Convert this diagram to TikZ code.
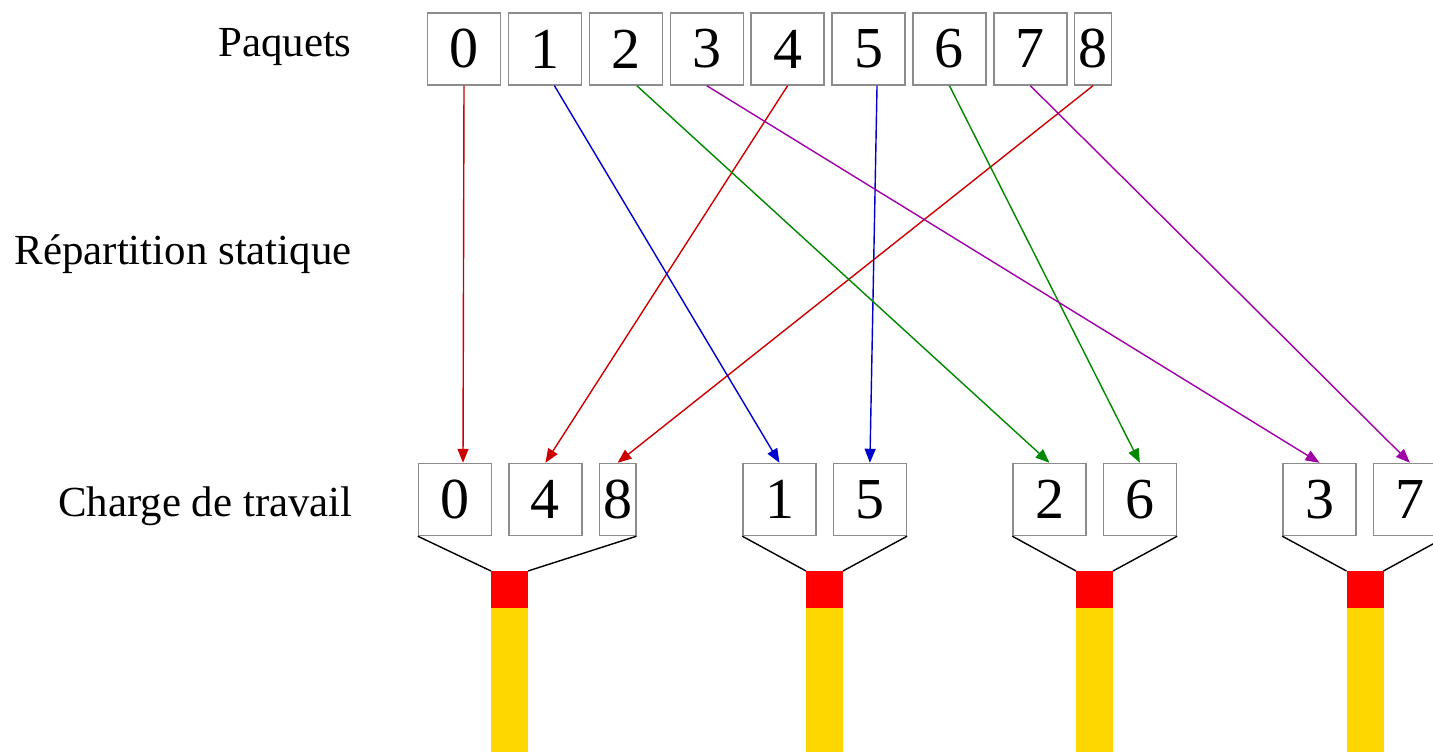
\documentclass[tikz,border=0pt]{standalone}
\usepackage{fontspec}
\setmainfont{Liberation Serif}
\usepackage{xcolor}
\usepackage{tikz}
\usetikzlibrary{arrows.meta,positioning}
\definecolor{boxgray}{HTML}{8C8C8C}
\definecolor{ared}{HTML}{CC0000}
\definecolor{ablue}{HTML}{0000CC}
\definecolor{agreen}{HTML}{008800}
\definecolor{apurple}{HTML}{A000A8}
\definecolor{corered}{HTML}{FF0000}
\definecolor{loadgold}{HTML}{FFD700}

\begin{document}
\begin{tikzpicture}[x=0.2mm, y=-0.2mm,
    pkt/.style={draw=boxgray, line width=0.8pt, fill=white, inner sep=0pt, minimum width=14.6mm, minimum height=14.4mm, font=\fontsize{33}{34}\selectfont},
    thin pkt/.style={pkt, minimum width=7.3mm},
    core/.style={fill=corered, inner sep=0pt, outer sep=0pt, minimum size=7.4mm},
    load/.style={fill=loadgold, inner sep=0pt, outer sep=0pt, minimum width=7.4mm, minimum height=30mm},
    lbl/.style={anchor=base east, inner sep=0pt, font=\fontsize{24.4}{26}\selectfont},
    send/.style={-{Triangle[length=2.8mm, width=2.2mm]}, line width=0.8pt},
    funnel/.style={line width=0.8pt, black}]
    \clip (0,0) rectangle (1433,752);

    % labels of the rows
    \node[lbl] (lpq) at (352,57) {Paquets};
    \node[lbl] (lrs) at (352,265) {Répartition statique};
    \node[lbl] (lct) at (353,517) {Charge de travail};

    % packets
    \node[pkt] (t0) at (464,49) {0};
    \node[pkt, right=1.3mm of t0] (t1) {1};
    \node[pkt, right=1.3mm of t1] (t2) {2};
    \node[pkt, right=1.3mm of t2] (t3) {3};
    \node[pkt, right=1.3mm of t3] (t4) {4};
    \node[pkt, right=1.3mm of t4] (t5) {5};
    \node[pkt, right=1.3mm of t5] (t6) {6};
    \node[pkt, right=1.3mm of t6] (t7) {7};
    \node[thin pkt, right=1.3mm of t7] (t8) {8};

    % workloads
    \node[pkt] (b0) at (455,499.5) {0};
    \node[pkt, right=3.2mm of b0] (b4) {4};
    \node[thin pkt, right=3.2mm of b4] (b8) {8};
    \node[pkt] (b1) at (779.5,499.5) {1};
    \node[pkt, right=3.2mm of b1] (b5) {5};
    \node[pkt] (b2) at (1049.5,499.5) {2};
    \node[pkt, right=3.2mm of b2] (b6) {6};
    \node[pkt] (b3) at (1319.5,499.5) {3};
    \node[pkt, right=3.2mm of b3] (b7) {7};

    % processors
    \node[core] (c0) at (509.5,589.5) {};
    \node[core] (c1) at (824.5,589.5) {};
    \node[core] (c2) at (1094.5,589.5) {};
    \node[core] (c3) at (1365,589.5) {};
    \node[load, below=0pt of c0] (l0) {};
    \node[load, below=0pt of c1] (l1) {};
    \node[load, below=0pt of c2] (l2) {};
    \node[load, below=0pt of c3] (l3) {};

    \draw[funnel] (b0.south west) -- (c0.north west);
    \draw[funnel] (b8.south east) -- (c0.north east);
    \draw[funnel] (b1.south west) -- (c1.north west);
    \draw[funnel] (b5.south east) -- (c1.north east);
    \draw[funnel] (b2.south west) -- (c2.north west);
    \draw[funnel] (b6.south east) -- (c2.north east);
    \draw[funnel] (b3.south west) -- (c3.north west);
    \draw[funnel] (b7.south east) -- (c3.north east);

    % static distribution
    \draw[send, ared] (t0.south) -- ([xshift=1.6mm]b0.north);
    \draw[send, ared] (t4.south) -- (b4.north);
    \draw[send, ared] (t8.south) -- (b8.north);
    \draw[send, ablue] ([xshift=1.9mm]t1.south) -- (b1.north);
    \draw[send, ablue] ([xshift=1.7mm]t5.south) -- (b5.north);
    \draw[send, agreen] ([xshift=2.2mm]t2.south) -- (b2.north);
    \draw[send, agreen] (t6.south) -- (b6.north);
    \draw[send, apurple] (t3.south) -- (b3.north);
    \draw[send, apurple] (t7.south) -- (b7.north);
  \end{tikzpicture}
\end{document}
